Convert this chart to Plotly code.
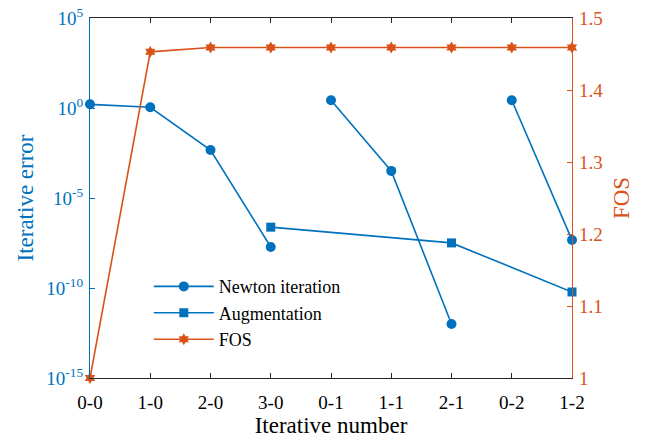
import plotly.graph_objects as go

# Iteration labels along the horizontal axis
iter_labels = ["0-0", "1-0", "2-0", "3-0", "0-1", "1-1", "2-1", "0-2", "1-2"]

# Newton iteration error, one run per load step
newton_x_1 = [0, 1, 2, 3]
newton_err_1 = [1.6, 1.1, 4.6e-3, 1.9e-8]
newton_x_2 = [4, 5, 6]
newton_err_2 = [2.7, 3.2e-4, 1.0e-12]
newton_x_3 = [7, 8]
newton_err_3 = [2.7, 4.6e-8]

# Augmentation error
aug_x = [3, 6, 8]
aug_err = [2.4e-7, 3.2e-8, 6.0e-11]

# Factor of safety at each iteration
fos_x = [0, 1, 2, 3, 4, 5, 6, 7, 8]
fos_vals = [1.0, 1.453, 1.459, 1.459, 1.459, 1.459, 1.459, 1.459, 1.459]

BLUE = "#0072BD"
ORANGE = "#D95319"
FONT = "'Liberation Serif', 'DejaVu Serif', serif"

fig = go.Figure()

# Newton runs share one legend entry; None breaks the line between runs
nx, ny = [], []
for xs, ys in [(newton_x_1, newton_err_1), (newton_x_2, newton_err_2), (newton_x_3, newton_err_3)]:
    if nx:
        nx.append(None)
        ny.append(None)
    nx += xs
    ny += ys

fig.add_trace(go.Scatter(
    x=nx, y=ny, mode="lines+markers", name="Newton iteration",
    line=dict(color=BLUE, width=1.6), connectgaps=False,
    marker=dict(symbol="circle", size=10, color=BLUE),
    cliponaxis=False, yaxis="y",
))
fig.add_trace(go.Scatter(
    x=aug_x, y=aug_err, mode="lines+markers", name="Augmentation",
    line=dict(color=BLUE, width=1.6),
    marker=dict(symbol="square", size=9, color=BLUE),
    cliponaxis=False, yaxis="y",
))
fig.add_trace(go.Scatter(
    x=fos_x, y=fos_vals, mode="lines+markers", name="FOS",
    line=dict(color=ORANGE, width=1.6),
    marker=dict(symbol="hexagram", size=9, color=ORANGE),
    cliponaxis=False, yaxis="y2",
))

log_ticks = [1e-15, 1e-10, 1e-5, 1, 1e5]
log_text = ["10<sup>-15</sup>", "10<sup>-10</sup>", "10<sup>-5</sup>", "10<sup>0</sup>", "10<sup>5</sup>"]

fig.update_layout(
    width=647, height=441,
    margin=dict(l=90, r=75, t=18, b=63),
    paper_bgcolor="white", plot_bgcolor="white",
    font=dict(family=FONT, size=18, color="black"),
    showlegend=True,
    legend=dict(
        x=0.122, y=0.305, xanchor="left", yanchor="top",
        bgcolor="rgba(255,255,255,0)", borderwidth=0,
        font=dict(family=FONT, size=18, color="black"),
        tracegroupgap=0, itemwidth=60,
    ),
    xaxis=dict(
        range=[0, 8], tickmode="array", tickvals=list(range(len(iter_labels))),
        ticktext=iter_labels, ticks="inside", ticklen=5, tickcolor="#262626",
        showline=True, linecolor="#262626", linewidth=1, mirror="ticks",
        showgrid=False, zeroline=False, automargin=False, ticklabelstandoff=7,
        tickfont=dict(family=FONT, size=19, color="black"),
        title=dict(text="Iterative number", font=dict(family=FONT, size=23, color="black"), standoff=3),
    ),
    yaxis=dict(
        type="log", range=[-15, 5], tickmode="array", tickvals=log_ticks, ticktext=log_text,
        ticks="inside", ticklen=5, tickcolor=BLUE,
        showline=True, linecolor=BLUE, linewidth=1.2,
        showgrid=False, zeroline=False, automargin=False, ticklabelstandoff=2,
        tickfont=dict(family=FONT, size=19, color=BLUE),
        title=dict(text="Iterative error", font=dict(family=FONT, size=23, color=BLUE), standoff=6),
    ),
    yaxis2=dict(
        overlaying="y", side="right", range=[1, 1.5],
        tickmode="array", tickvals=[1, 1.1, 1.2, 1.3, 1.4, 1.5],
        ticktext=["1", "1.1", "1.2", "1.3", "1.4", "1.5"],
        ticks="inside", ticklen=5, tickcolor=ORANGE,
        showline=True, linecolor=ORANGE, linewidth=1.2,
        showgrid=False, zeroline=False, automargin=False, ticklabelstandoff=2,
        tickfont=dict(family=FONT, size=19, color=ORANGE),
        title=dict(text="FOS", font=dict(family=FONT, size=23, color=ORANGE), standoff=10),
    ),
)

fig.write_html("out.html")
